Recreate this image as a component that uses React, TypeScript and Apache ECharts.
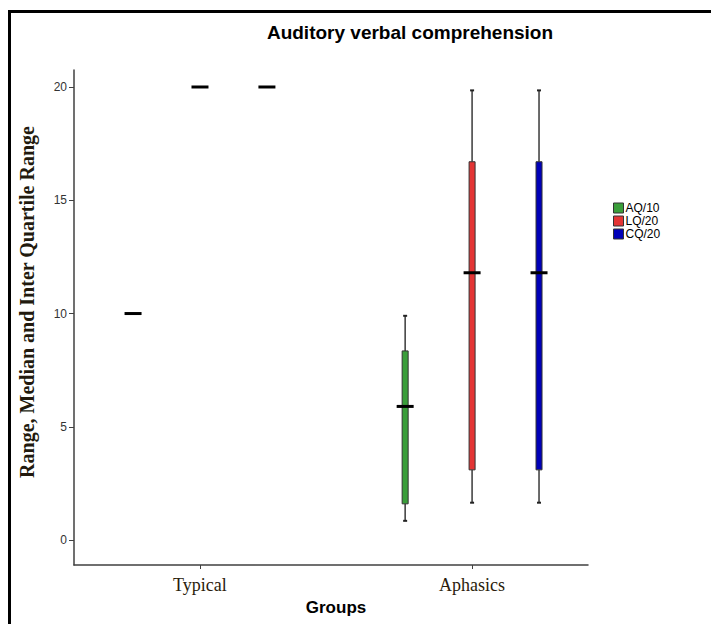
import React, { useEffect, useRef } from "react";
import * as echarts from "echarts";

const categories = ["Typical", "Aphasics"];
const seriesNames = ["AQ/10", "LQ/20", "CQ/20"];
const seriesColors = ["#3a9e3a", "#e33434", "#0000b8"];
// [min, Q1, median, Q3, max] per category
const aqValues = [
  [10, 10, 10, 10, 10],
  [0.85, 1.6, 5.9, 8.35, 9.9],
];
const lqValues = [
  [20, 20, 20, 20, 20],
  [1.65, 3.1, 11.8, 16.7, 19.85],
];
const cqValues = [
  [20, 20, 20, 20, 20],
  [1.65, 3.1, 11.8, 16.7, 19.85],
];
const yTicks = [0, 5, 10, 15, 20];
const seriesOffsets = [-0.246, 0, 0.246];

export default function App() {
  const ref = useRef<HTMLDivElement>(null);
  useEffect(() => {
    if (!ref.current) return;
    const chart = echarts.init(ref.current, null, { renderer: "svg" });
    const allValues = [aqValues, lqValues, cqValues];

    const makeRender = (offset: number, color: string) => (params: any, api: any) => {
      const x = api.value(0) + offset;
      const pMin = api.coord([x, api.value(1)]);
      const pQ1 = api.coord([x, api.value(2)]);
      const pMed = api.coord([x, api.value(3)]);
      const pQ3 = api.coord([x, api.value(4)]);
      const pMax = api.coord([x, api.value(5)]);
      const cx = pMin[0];
      const boxW = 6;
      const capW = 4;
      const medW = 17;
      const whisker = { stroke: "#3a3a3a", lineWidth: 1.5 };
      const children: any[] = [];
      const isFlat = api.value(1) === api.value(5);
      if (!isFlat) {
        children.push(
          { type: "line", shape: { x1: cx, y1: pMin[1], x2: cx, y2: pQ1[1] }, style: whisker },
          { type: "line", shape: { x1: cx, y1: pQ3[1], x2: cx, y2: pMax[1] }, style: whisker },
          { type: "line", shape: { x1: cx - capW / 2, y1: pMin[1], x2: cx + capW / 2, y2: pMin[1] }, style: { stroke: "#222", lineWidth: 2 } },
          { type: "line", shape: { x1: cx - capW / 2, y1: pMax[1], x2: cx + capW / 2, y2: pMax[1] }, style: { stroke: "#222", lineWidth: 2 } },
          {
            type: "rect",
            shape: { x: cx - boxW / 2, y: pQ3[1], width: boxW, height: pQ1[1] - pQ3[1] },
            style: { fill: color, stroke: "#333", lineWidth: 1 },
          }
        );
      }
      children.push({
        type: "line",
        shape: { x1: cx - medW / 2, y1: pMed[1], x2: cx + medW / 2, y2: pMed[1] },
        style: { stroke: "#000", lineWidth: 3 },
      });
      return { type: "group", children };
    };

    const series = seriesNames.map((name, si) => ({
      name,
      type: "custom",
      itemStyle: { color: seriesColors[si] },
      renderItem: makeRender(seriesOffsets[si], seriesColors[si]),
      encode: { x: 0, y: [1, 2, 3, 4, 5] },
      data: allValues[si].map((v, ci) => [ci, ...v]),
    }));

    chart.setOption({
      animation: false,
      backgroundColor: "#fff",
      title: {
        text: "Auditory verbal comprehension",
        left: 405,
        top: 18,
        textAlign: "center",
        textStyle: { fontFamily: "Liberation Sans", fontWeight: "bold", fontSize: 19, color: "#000" },
      },
      legend: {
        orient: "vertical",
        left: 613,
        top: 202,
        padding: 0,
        icon: "rect",
        itemWidth: 10,
        itemHeight: 10,
        itemGap: 1,
        data: seriesNames,
        itemStyle: { borderColor: "#333", borderWidth: 1 },
        textStyle: { fontFamily: "Liberation Sans", fontSize: 12, lineHeight: 12, color: "#000", padding: [0, 0, 0, -3] },
      },
      grid: { left: 74, right: 123, top: 70, bottom: 59, containLabel: false },
      xAxis: {
        type: "value",
        min: -0.463,
        max: 1.426,
        splitLine: { show: false },
        axisLine: { show: true, onZero: false, lineStyle: { color: "#404040", width: 1.5 } },
        axisTick: { show: true, customValues: [0, 1], length: 4, lineStyle: { color: "#404040" } },
        axisLabel: {
          customValues: [0, 1],
          formatter: (v: number) => categories[Math.round(v)],
          fontFamily: "Liberation Serif",
          fontSize: 18,
          color: "#2a1c0c",
          margin: 11,
        },
      },
      yAxis: {
        type: "value",
        min: -1.1,
        max: 20.75,
        splitLine: { show: false },
        axisLine: { show: true, onZero: false, lineStyle: { color: "#404040", width: 1.5 } },
        axisTick: { show: true, customValues: yTicks, length: 5, lineStyle: { color: "#404040" } },
        axisLabel: {
          customValues: yTicks,
          fontFamily: "Liberation Sans",
          fontSize: 12,
          color: "#333",
          margin: 7,
        },
      },
      graphic: [
        {
          type: "rect",
          shape: { x: 9.5, y: 11.5, width: 720, height: 640 },
          style: { fill: "none", stroke: "#000", lineWidth: 3 },
          silent: true,
        },
        {
          type: "text",
          x: 27,
          y: 302,
          rotation: Math.PI / 2,
          style: {
            text: "Range, Median and Inter Quartile Range",
            fontFamily: "Liberation Serif",
            fontWeight: "bold",
            fontSize: 20,
            fill: "#221a0e",
            textAlign: "center",
            textVerticalAlign: "middle",
          },
        },
        {
          type: "text",
          x: 336,
          y: 607,
          style: {
            text: "Groups",
            fontFamily: "Liberation Sans",
            fontWeight: "bold",
            fontSize: 17,
            fill: "#000",
            textAlign: "center",
            textVerticalAlign: "middle",
          },
        },
      ],
      series,
    });
    return () => chart.dispose();
  }, []);
  return <div ref={ref} style={{ position: "fixed", left: 0, top: 0, width: 711, height: 624 }} />;
}
